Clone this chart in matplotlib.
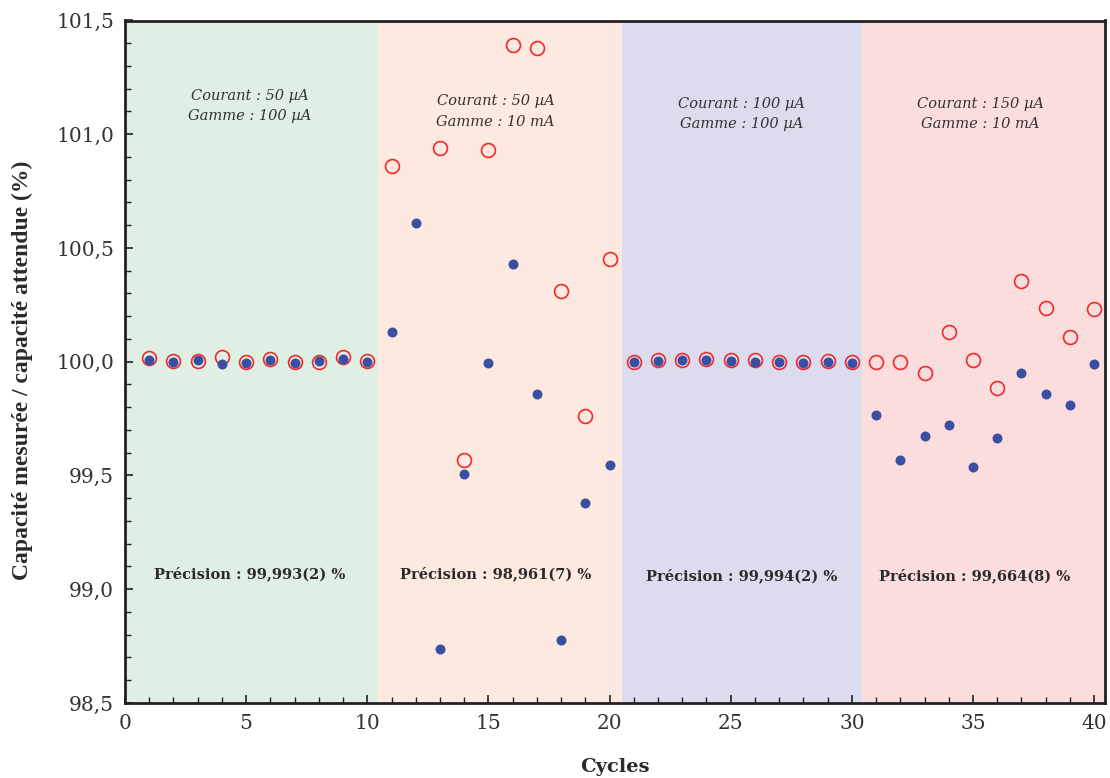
import numpy as np
import matplotlib
matplotlib.use("Agg")
import matplotlib.pyplot as plt
from matplotlib.ticker import MultipleLocator, FuncFormatter

# ---- data ----
cycles = list(range(1, 41))
red_open = [100.015, 100.002, 100.002, 100.019, 99.999, 100.013, 99.997, 99.999, 100.019, 100.003,
            100.861, np.nan, 100.941, 99.568, 100.932, 101.394, 101.379, 100.310, 99.760, 100.450,
            99.997, 100.009, 100.007, 100.010, 100.007, 100.006, 100.001, 100.000, 100.003, 100.000,
            99.999, 99.999, 99.949, 100.129, 100.006, 99.883, 100.355, 100.236, 100.107, 100.230]
blue_filled = [100.007, 99.997, 100.006, 99.991, 99.994, 100.007, 99.993, 100.003, 100.013, 99.997,
               100.129, 100.608, 98.736, 99.505, 99.996, 100.429, 99.857, 98.778, 99.377, 99.545,
               100.000, 100.004, 100.006, 100.007, 100.004, 100.000, 99.999, 99.996, 99.999, 99.994,
               99.768, 99.566, 99.674, 99.722, 99.538, 99.665, 99.952, 99.857, 99.810, 99.990]

region_bounds = [(0, 10.45), (10.45, 20.5), (20.5, 30.41), (30.41, 40.45)]
region_colors = ["#E0EFE3", "#FDE9DF", "#DCDCEE", "#FBDDDD"]
region_labels = ["Courant : 50 µA\nGamme : 100 µA",
                 "Courant : 50 µA\nGamme : 10 mA",
                 "Courant : 100 µA\nGamme : 100 µA",
                 "Courant : 150 µA\nGamme : 10 mA"]
precisions = ["Précision : 99,993(2) %", "Précision : 98,961(7) %",
              "Précision : 99,994(2) %", "Précision : 99,664(8) %"]

label_x = [5.15, 15.3, 25.45, 35.3]
label_y = [101.125, 101.10, 101.09, 101.09]
prec_x = [5.15, 15.3, 25.45, 35.05]
prec_y = [99.07, 99.07, 99.06, 99.06]

serif = "DejaVu Serif"

fig = plt.figure(figsize=(11.10, 7.78), dpi=100)
ax = fig.add_axes([125/1110, 1-703/778, (1105-125)/1110, (703-20.5)/778])

for (a, b), c in zip(region_bounds, region_colors):
    ax.axvspan(a, b, color=c, lw=0, zorder=0)

ax.plot(cycles, red_open, ls="none", marker="o", ms=10, mfc="none", mec="#F02A2A", mew=1.2, zorder=3)
ax.plot(cycles, blue_filled, ls="none", marker="o", ms=7.2, mfc="#3A4FA2", mec="#3A4FA2", mew=0, zorder=4)

for x, y, t in zip(label_x, label_y, region_labels):
    ax.text(x, y, t, ha="center", va="center", family=serif, style="italic",
            fontsize=10.5, color="#333333", linespacing=1.55, zorder=5)
for x, y, t in zip(prec_x, prec_y, precisions):
    ax.text(x, y, t, ha="center", va="center", family=serif, weight="bold",
            fontsize=10.5, color="#2a2a2a", zorder=5)

ax.set_xlim(0, 40.45)
ax.set_ylim(98.5, 101.5)
ax.xaxis.set_major_locator(MultipleLocator(5))
ax.xaxis.set_minor_locator(MultipleLocator(1))
ax.yaxis.set_major_locator(MultipleLocator(0.5))
ax.yaxis.set_minor_locator(MultipleLocator(0.1))
ax.yaxis.set_major_formatter(FuncFormatter(lambda v, p: f"{v:.1f}".replace(".", ",")))
ax.xaxis.set_major_formatter(FuncFormatter(lambda v, p: f"{v:.0f}"))

ax.tick_params(which="both", direction="in", color="#222222", top=False, right=False)
ax.tick_params(which="major", length=6, width=1.2, labelsize=14.5, pad=8, labelcolor="#333333")
ax.tick_params(which="minor", length=4, width=1.0)
for lab in ax.get_xticklabels() + ax.get_yticklabels():
    lab.set_family(serif)

for s in ax.spines.values():
    s.set_linewidth(2.0)
    s.set_color("#222222")
    s.set_zorder(6)

ax.set_xlabel("Cycles", family=serif, weight="bold", fontsize=14, color="#2a2a2a", labelpad=18)
ax.set_ylabel("Capacité mesurée / capacité attendue (%)", family=["Liberation Serif", "DejaVu Serif"],
              weight="bold", fontsize=17, color="#2a2a2a", labelpad=12)
ax.yaxis.set_label_coords(-0.094, 0.487)

fig.savefig("out.png", dpi=100)
